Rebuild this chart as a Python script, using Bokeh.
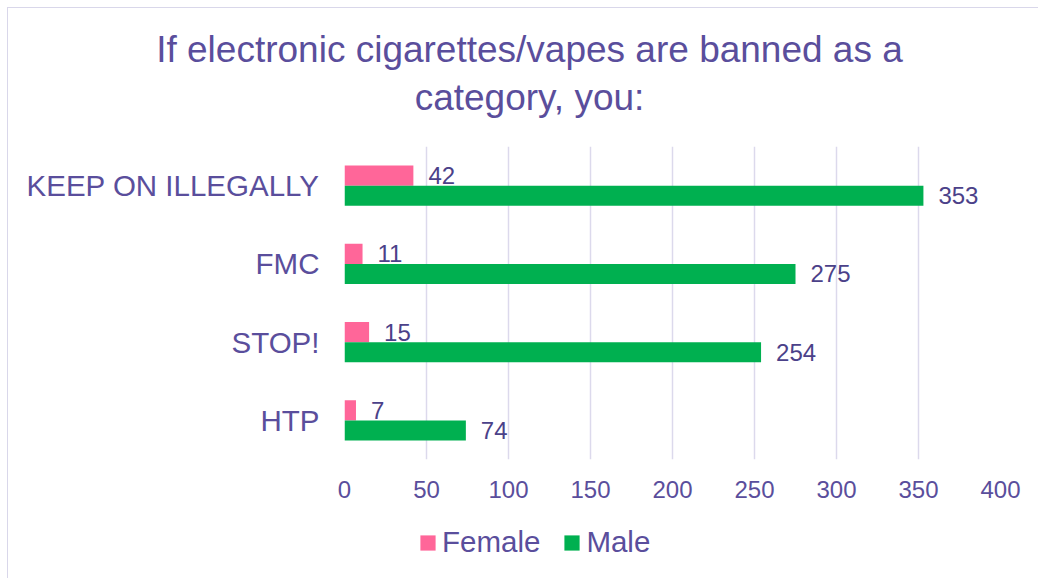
from bokeh.plotting import figure
from bokeh.models import ColumnDataSource, FactorRange, Label, Legend, LegendItem, LabelSet, FixedTicker
from bokeh.layouts import column
from bokeh.transform import dodge
from bokeh.core.properties import value
from bokeh.embed import file_html
from bokeh.resources import INLINE

categories = ["KEEP ON ILLEGALLY", "FMC", "STOP!", "HTP"]
female = [42, 11, 15, 7]
male = [353, 275, 254, 74]
x_ticks = [0, 50, 100, 150, 200, 250, 300, 350, 400]
series_names = ["Female", "Male"]
title_text = "If electronic cigarettes/vapes are banned as a\ncategory, you:"

TEXT = "#5a4e9c"
LABEL = "#4b4189"
PINK = "#ff6699"
GREEN = "#00b050"
GRID = "#dcd9ec"
FONT = "Liberation Sans"
W = 1030

# ---- title strip
pt = figure(width=W, height=138, x_range=(0, 1), y_range=(0, 1),
            x_axis_type=None, y_axis_type=None, min_border=0,
            output_backend="svg", toolbar_location=None)
pt.frame_align = False
pt.outline_line_color = None
pt.grid.visible = False
pt.add_layout(Label(x=521, y=73, x_units="screen", y_units="screen", text=title_text,
                    text_align="center", text_baseline="middle", text_font=FONT,
                    text_font_size="37px", text_color=TEXT, text_line_height=1.17))

# ---- main chart
src = ColumnDataSource(dict(cat=categories, female=female, male=male,
                            female_txt=[str(v) for v in female],
                            male_txt=[str(v) for v in male]))

p = figure(width=W, height=368,
           y_range=FactorRange(factors=list(reversed(categories))),
           x_range=(0, 400),
           output_backend="svg", toolbar_location=None,
           min_border_left=336, min_border_right=38,
           min_border_top=0, min_border_bottom=55)
p.outline_line_color = None

rf = p.hbar(y=dodge("cat", 0.128, range=p.y_range), right="female", height=0.256,
            left=0, source=src, fill_color=PINK, line_color=None)
rm = p.hbar(y=dodge("cat", -0.128, range=p.y_range), right="male", height=0.256,
            left=0, source=src, fill_color=GREEN, line_color=None)

p.add_layout(LabelSet(x="female", y=dodge("cat", 0.128, range=p.y_range), text="female_txt",
                      source=src, x_offset=15, text_align="left", text_baseline="middle",
                      text_font=value(FONT), text_font_size="24px", text_color=LABEL))
p.add_layout(LabelSet(x="male", y=dodge("cat", -0.128, range=p.y_range), text="male_txt",
                      source=src, x_offset=15, text_align="left", text_baseline="middle",
                      text_font=value(FONT), text_font_size="24px", text_color=LABEL))

p.xaxis.ticker = FixedTicker(ticks=x_ticks)
for ax in (p.xaxis[0], p.yaxis[0]):
    ax.axis_line_color = None
    ax.major_tick_line_color = None
    ax.minor_tick_line_color = None
    ax.major_label_text_color = TEXT
    ax.major_label_text_font = FONT
p.xaxis.major_label_text_font_size = "24px"
p.xaxis.major_label_standoff = 15
p.yaxis.major_label_text_font_size = "29.5px"
p.yaxis.major_label_standoff = 19

p.xgrid.grid_line_color = GRID
p.xgrid.grid_line_width = 1.5
p.ygrid.grid_line_color = None

# ---- legend strip
pl = figure(width=W, height=64, x_range=(0, 1), y_range=(0, 1),
            x_axis_type=None, y_axis_type=None, min_border=0,
            output_backend="svg", toolbar_location=None)
pl.frame_align = False
pl.outline_line_color = None
pl.grid.visible = False
lf = pl.rect(x=[-5], y=[-5], width=0.1, height=0.1, fill_color=PINK, line_color=None)
lm = pl.rect(x=[-5], y=[-5], width=0.1, height=0.1, fill_color=GREEN, line_color=None)
legend = Legend(items=[LegendItem(label=series_names[0], renderers=[lf]),
                       LegendItem(label=series_names[1], renderers=[lm])],
                orientation="horizontal", location=(410, 19),
                label_text_font=FONT, label_text_font_size="29.5px", label_text_color=TEXT,
                glyph_width=19, glyph_height=19, spacing=22, label_standoff=5,
                border_line_color=None, background_fill_alpha=0, padding=0, margin=0)
pl.add_layout(legend, "center")

layout = column(pt, p, pl, spacing=0, margin=(7, 0, 0, 7),
                styles={"border-top": "1px solid #d9d7ea", "border-left": "1px solid #d9d7ea"})

open("out.html", "w").write(file_html(layout, INLINE))
